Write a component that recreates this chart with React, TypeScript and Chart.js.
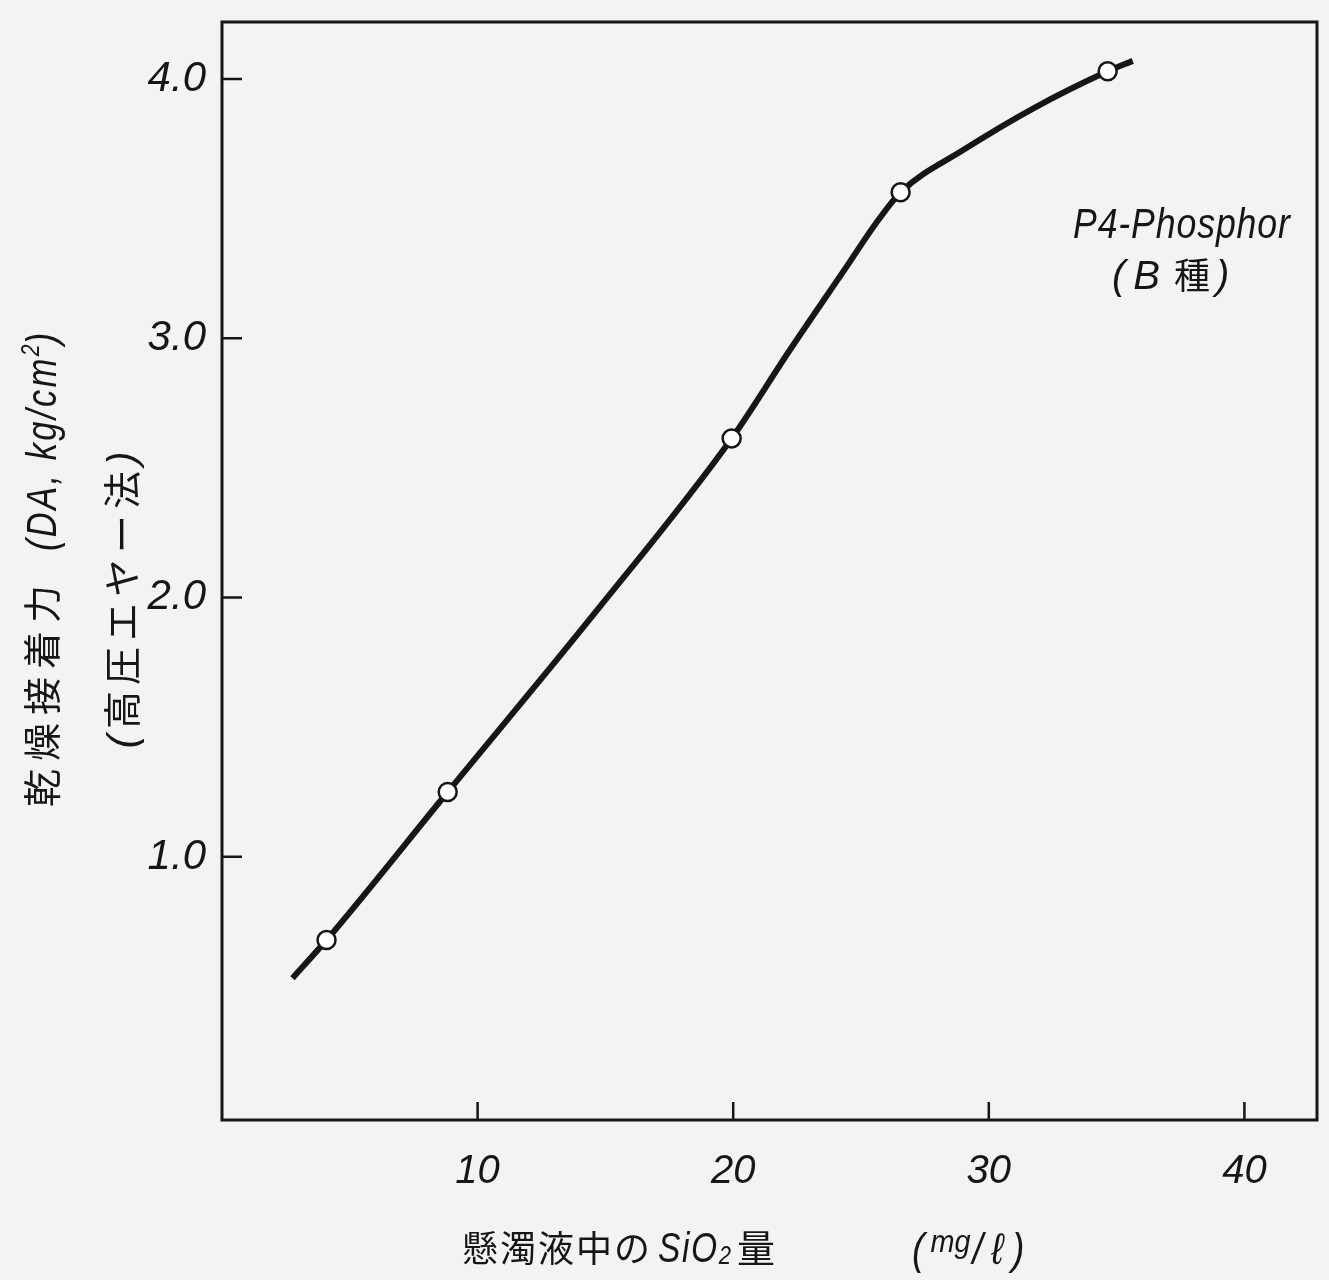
import React, { useEffect, useRef } from 'react';
import { Chart, registerables } from 'chart.js';

Chart.register(...registerables);

// ---- data ----
const curveX = [2.76, 4.09, 8.83, 14.5, 19.94, 22.21, 24.55, 25.53, 26.55, 28.98, 31.8, 34.65, 35.63];
const curveY = [0.532, 0.679, 1.25, 1.93, 2.614, 2.954, 3.293, 3.436, 3.563, 3.725, 3.89, 4.03, 4.07];
const pointX = [4.09, 8.83, 19.94, 26.55, 34.65];
const pointY = [0.679, 1.25, 2.614, 3.563, 4.03];
const xTicks = [10, 20, 30, 40];
const yTicks = [1, 2, 3, 4];

const yTitleCJK = '乾燥接着力';
const yTitleUnit = '(DA, kg/cm';
const yTitleLine2 = '高圧エヤー法';
const xTitleCJK = '懸濁液中の';
const xTitleSi = 'SiO';
const xTitleAmount = '量';
const xTitleUnitA = 'mg';
const xTitleUnitB = '/ℓ)';
const noteLine1 = 'P4-Phosphor';
const noteLine2B = 'B';
const noteLine2K = '種';

const INK = '#161616';
const BG = '#f3f3f1';
const LAT = "'Liberation Sans', 'DejaVu Sans', sans-serif";
const CJK = "'Noto Sans CJK JP', 'Noto Sans CJK SC', sans-serif";

type Run = { t: string; f?: string; dy?: number; ls?: number; gap?: number; sx?: number };

function runWidth(ctx: CanvasRenderingContext2D, r: Run) {
  if (r.gap) return r.gap;
  ctx.font = r.f!;
  (ctx as any).letterSpacing = `${r.ls || 0}px`;
  const w = ctx.measureText(r.t).width * (r.sx || 1);
  (ctx as any).letterSpacing = '0px';
  return w;
}

function drawRuns(ctx: CanvasRenderingContext2D, runs: Run[], x: number, y: number, center: boolean) {
  let total = 0;
  for (const r of runs) total += runWidth(ctx, r);
  let cx = center ? x - total / 2 : x;
  ctx.textAlign = 'left';
  ctx.textBaseline = 'alphabetic';
  for (const r of runs) {
    const w = runWidth(ctx, r);
    if (!r.gap) {
      ctx.save();
      ctx.font = r.f!;
      (ctx as any).letterSpacing = `${r.ls || 0}px`;
      ctx.translate(cx, y + (r.dy || 0));
      ctx.scale(r.sx || 1, 1);
      ctx.fillText(r.t, 0, 0);
      ctx.restore();
    }
    cx += w;
  }
  (ctx as any).letterSpacing = '0px';
}

const decor = {
  id: 'decor',
  beforeDraw(chart: any) {
    const { ctx, width, height } = chart;
    ctx.save();
    ctx.fillStyle = BG;
    ctx.fillRect(0, 0, width, height);
    ctx.restore();
  },
  afterDraw(chart: any) {
    const { ctx, chartArea: a, scales } = chart;
    ctx.save();
    ctx.strokeStyle = INK;
    ctx.lineWidth = 3;
    ctx.strokeRect(a.left, a.top, a.right - a.left, a.bottom - a.top);
    ctx.lineWidth = 2.5;
    ctx.beginPath();
    for (const v of xTicks) {
      const px = scales.x.getPixelForValue(v);
      ctx.moveTo(px, a.bottom);
      ctx.lineTo(px, a.bottom - 18);
    }
    for (const v of yTicks) {
      const py = scales.y.getPixelForValue(v);
      ctx.moveTo(a.left, py);
      ctx.lineTo(a.left + 20, py);
    }
    ctx.stroke();

    ctx.fillStyle = INK;
    // y title, line 1
    ctx.save();
    ctx.translate(42, 570);
    ctx.rotate(-Math.PI / 2);
    drawRuns(ctx, [
      { t: yTitleCJK, f: `38px ${CJK}`, ls: 8 },
      { t: '', gap: 26 },
      { t: yTitleUnit, f: `italic 42px ${LAT}`, ls: 3, sx: 0.82 },
      { t: '2', f: `italic 26px ${LAT}`, dy: -17, sx: 0.82 },
      { t: ')', f: `italic 42px ${LAT}`, sx: 0.82 },
    ], 0, 14, true);
    ctx.restore();
    // y title, line 2
    ctx.save();
    ctx.translate(122, 600);
    ctx.rotate(-Math.PI / 2);
    drawRuns(ctx, [
      { t: '(', f: `italic 40px ${LAT}` },
      { t: '', gap: 6 },
      { t: yTitleLine2, f: `38px ${CJK}`, ls: 6 },
      { t: ')', f: `italic 40px ${LAT}` },
    ], 0, 14, true);
    ctx.restore();

    // x title
    drawRuns(ctx, [
      { t: xTitleCJK, f: `36px ${CJK}`, ls: 2 },
      { t: '', gap: 6 },
      { t: xTitleSi, f: `italic 42px ${LAT}`, sx: 0.8, ls: 2 },
      { t: '2', f: `italic 26px ${LAT}`, dy: 2, sx: 0.85 },
      { t: '', gap: 6 },
      { t: xTitleAmount, f: `38px ${CJK}` },
    ], 462, 1262, false);
    drawRuns(ctx, [
      { t: '(', f: `italic 44px ${LAT}`, sx: 0.85 },
      { t: '', gap: 6 },
      { t: xTitleUnitA, f: `italic 32px ${LAT}`, dy: -12, sx: 0.9 },
      { t: '', gap: 2 },
      { t: xTitleUnitB, f: `italic 44px ${LAT}`, ls: 10, sx: 0.85 },
    ], 912, 1264, false);

    // annotation
    drawRuns(ctx, [{ t: noteLine1, f: `italic 42px ${LAT}`, sx: 0.85, ls: 1 }], 1073, 238, false);
    drawRuns(ctx, [
      { t: '(', f: `italic 40px ${LAT}` },
      { t: '', gap: 8 },
      { t: noteLine2B, f: `italic 40px ${LAT}` },
      { t: '', gap: 14 },
      { t: noteLine2K, f: `36px ${CJK}` },
      { t: '', gap: 6 },
      { t: ')', f: `italic 40px ${LAT}` },
    ], 1112, 289, false);
    ctx.restore();
  },
};

export default function App() {
  const ref = useRef<HTMLCanvasElement | null>(null);
  useEffect(() => {
    if (!ref.current) return;
    const chart = new Chart(ref.current, {
      type: 'scatter',
      data: {
        datasets: [
          {
            label: 'points',
            data: pointX.map((x, i) => ({ x, y: pointY[i] })),
            showLine: false,
            pointRadius: 9,
            pointBorderWidth: 2.5,
            pointBackgroundColor: '#ffffff',
            pointBorderColor: INK,
            order: 0,
          },
          {
            label: 'curve',
            data: curveX.map((x, i) => ({ x, y: curveY[i] })),
            showLine: true,
            pointRadius: 0,
            borderColor: INK,
            borderWidth: 6,
            cubicInterpolationMode: 'monotone',
            order: 1,
          },
        ],
      },
      options: {
        responsive: false,
        animation: false,
        events: [],
        layout: { padding: { top: 22, right: 12, left: 0, bottom: 0 } },
        plugins: { legend: { display: false }, tooltip: { enabled: false } },
        scales: {
          x: {
            type: 'linear',
            min: 0,
            max: 42.84,
            grid: { display: false, drawTicks: false },
            border: { display: false },
            afterBuildTicks: (s: any) => { s.ticks = xTicks.map((v) => ({ value: v })); },
            afterFit: (s: any) => { s.height = 160; s.paddingLeft = 0; s.paddingRight = 0; },
            ticks: {
              color: INK,
              padding: 28,
              maxRotation: 0,
              font: { family: LAT, size: 40, style: 'italic' },
              callback: (v: any) => String(v),
            },
          },
          y: {
            type: 'linear',
            min: -0.015,
            max: 4.22,
            grid: { display: false, drawTicks: false },
            border: { display: false },
            afterBuildTicks: (s: any) => { s.ticks = yTicks.map((v) => ({ value: v })); },
            afterFit: (s: any) => { s.width = 222; s.paddingTop = 0; s.paddingBottom = 0; },
            ticks: {
              color: INK,
              padding: 16,
              font: { family: LAT, size: 42, style: 'italic' },
              callback: (v: any) => Number(v).toFixed(1),
            },
          },
        },
      },
      plugins: [decor],
    } as any);
    return () => chart.destroy();
  }, []);
  return (
    <div style={{ position: 'absolute', left: 0, top: 0, width: 1329, height: 1280 }}>
      <canvas ref={ref} width={1329} height={1280} style={{ display: 'block', width: 1329, height: 1280 }} />
    </div>
  );
}
